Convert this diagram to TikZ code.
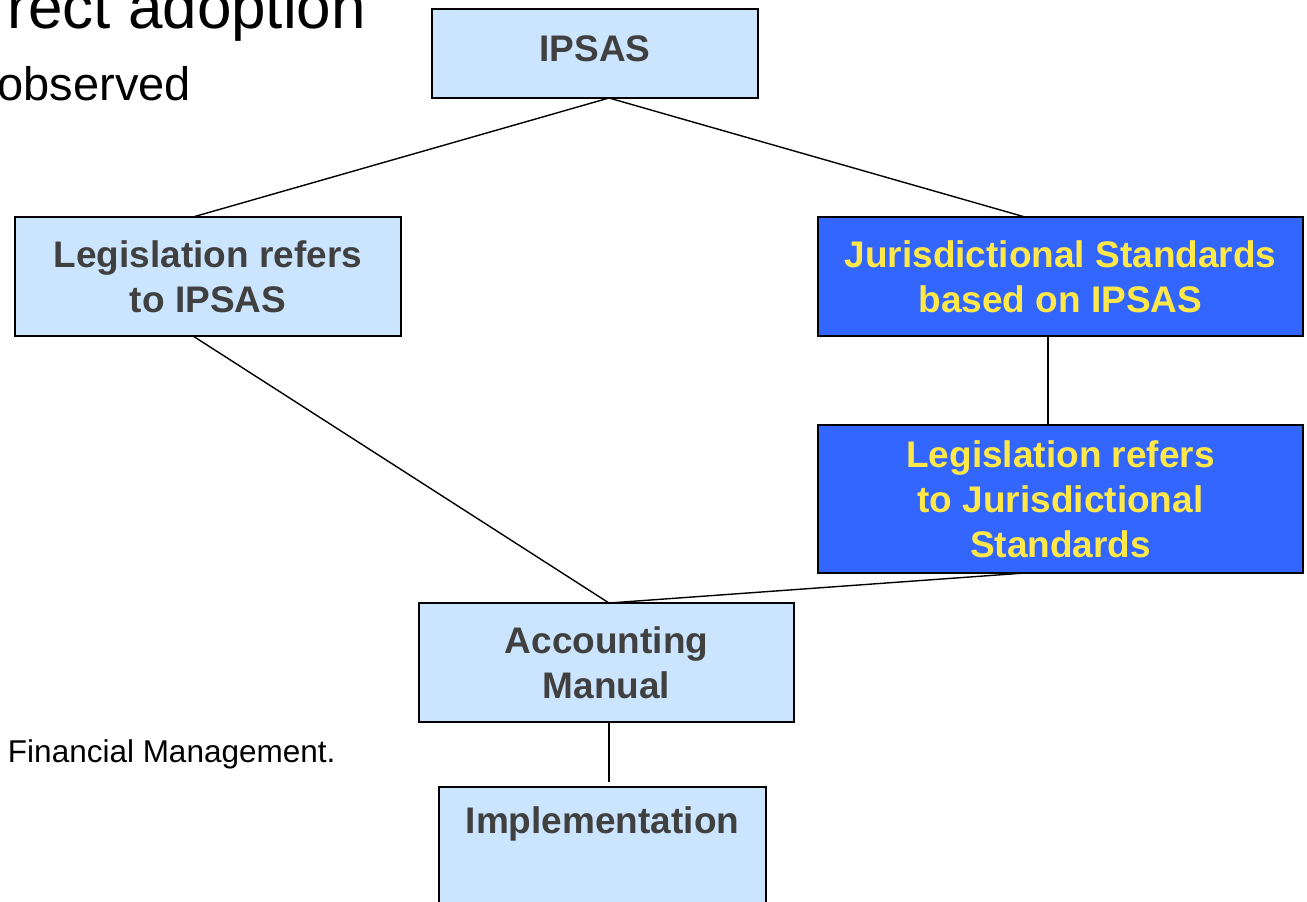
\documentclass[tikz,border=0pt]{standalone}
\usepackage{fontspec}
\setmainfont{Liberation Sans}
\usetikzlibrary{calc}
\definecolor{lightfill}{RGB}{204,229,255}
\definecolor{bluefill}{RGB}{51,102,255}
\definecolor{darktext}{RGB}{64,64,64}
\definecolor{yellowtext}{RGB}{255,232,72}
\tikzset{
  boxfont/.style={font=\bfseries\fontsize{37}{45}\selectfont},
  boxbase/.style={rectangle, draw=black, line width=1.6pt, outer sep=0pt, inner sep=0pt, align=center, boxfont},
  lightbox/.style={boxbase, fill=lightfill, text=darktext},
  bluebox/.style={boxbase, fill=bluefill, text=yellowtext},
  conn/.style={draw=black, line width=1.4pt},
  plaintext/.style={inner sep=0pt, outer sep=0pt, text=black}
}
\begin{document}
\begin{tikzpicture}[x=1pt,y=-1pt]
\useasboundingbox (0,0) rectangle (1307,902);
% title fragments
\node[plaintext, anchor=base east, font=\fontsize{62}{70}\selectfont] (title1) at (366,28) {rect adoption};
\node[plaintext, anchor=base east, font=\fontsize{47}{54}\selectfont] (title2) at (191,100) {observed};
\node[plaintext, anchor=base west, font=\fontsize{31.5}{36}\selectfont] (fm) at (8,762) {Financial Management.};
% boxes
\node[lightbox, minimum width=326, minimum height=89] (ipsas) at (595,53.5) {};
\node[plaintext, boxfont, text=darktext, anchor=base] (ipsastext) at (595,61) {IPSAS};
\node[lightbox, minimum width=386, minimum height=119] (legl) at (208,276.5) {Legislation refers\\to IPSAS};
\node[bluebox, minimum width=485, minimum height=119] (jur) at (1060.5,276.5) {Jurisdictional Standards\\based on IPSAS};
\node[bluebox, minimum width=485, minimum height=148] (legr) at (1060.5,499) {Legislation refers\\to Jurisdictional\\Standards};
\node[lightbox, minimum width=375, minimum height=119] (acc) at (606.5,662.5) {Accounting\\Manual};
\node[lightbox, minimum width=327, minimum height=130, anchor=north] (impl) at (602.5,787) {};
\node[plaintext, boxfont, text=darktext, anchor=base] (impltext) at (602.5,833) {Implementation};
% connectors
\coordinate (ipsasbot) at ($(ipsas.south)+(14,0)$);
\draw[conn] (ipsasbot) -- ($(legl.north)+(-15,0)$);
\draw[conn] (ipsasbot) -- ($(jur.north)+(-35.5,0)$);
\draw[conn] ($(legl.south)+(-15,0)$) -- ($(acc.north)+(2.5,0)$);
\draw[conn] ($(jur.south)+(-12.5,0)$) -- ($(legr.north)+(-12.5,0)$);
\draw[conn] ($(legr.south)+(-35.5,0)$) -- ($(acc.north)+(2.5,0)$);
\coordinate (implgap) at ($(impl.north)+(6.5,-5)$);
\draw[conn] ($(acc.south)+(2.5,0)$) -- (implgap);
\end{tikzpicture}
\end{document}
